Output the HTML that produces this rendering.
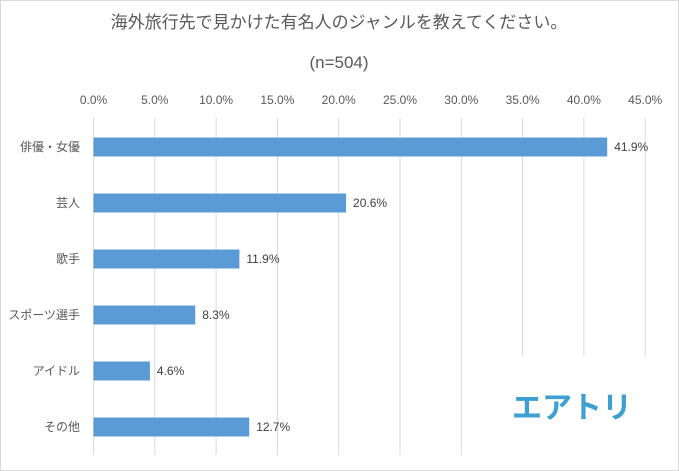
<!DOCTYPE html>
<html><head><meta charset="utf-8"><style>
body{margin:0;background:#fff}
svg{display:block;font-family:"Liberation Sans","Noto Sans CJK JP",sans-serif}
</style></head><body>
<svg id="c" width="679" height="471">
<rect x="0.5" y="0.5" width="678" height="470" fill="#fff" stroke="#d9d9d9"/>
<text x="339" y="28" text-anchor="middle" font-size="17" fill="#595959">海外旅行先で見かけた有名人のジャンルを教えてください。</text>
<text x="339" y="68" text-anchor="middle" font-size="17" fill="#595959">(n=504)</text>
<g id="grid"></g><g id="bars"></g>
<rect x="498" y="356" width="170" height="100" fill="#fff"/>
<text x="572" y="418" text-anchor="middle" font-size="30" font-weight="bold" fill="#3e9fd0">エアトリ</text>
</svg>
<script>
const categories=["俳優・女優","芸人","歌手","スポーツ選手","アイドル","その他"];
const values=[41.9,20.6,11.9,8.3,4.6,12.7];
const ticks=[0,5,10,15,20,25,30,35,40,45];
const ns="http://www.w3.org/2000/svg";
const x=v=>93.5+v*12.26;
const y=i=>147+i*56;
const g=document.getElementById('grid'),b=document.getElementById('bars');
function mk(p,t,a){const e=document.createElementNS(ns,t);for(const k in a)e.setAttribute(k,a[k]);p.appendChild(e);return e;}
ticks.forEach(t=>{
 const l=mk(g,'line',{x1:x(t),x2:x(t),y1:118,y2:455,stroke:'#d9d9d9','stroke-width':1});
 
 
 const tx=mk(g,'text',{x:x(t),y:104,'text-anchor':'middle','font-size':12,fill:'#595959'});
 tx.textContent=t.toFixed(1)+'%';
 
 
});
categories.forEach((c,i)=>{
 const r=mk(b,'rect',{x:x(0),y:y(i)-9.5,width:x(values[i])-x(0),height:19,fill:'#5b9bd5'});
 
 
 const lb=mk(b,'text',{x:80,y:y(i)+4,'text-anchor':'end','font-size':12,fill:'#595959'});
 lb.textContent=c;
 
 
 const v=mk(b,'text',{x:x(values[i])+7,y:y(i)+4,'font-size':12,fill:'#404040'});
 v.textContent=values[i].toFixed(1)+'%';
 
 
});
</script>
</body></html>
